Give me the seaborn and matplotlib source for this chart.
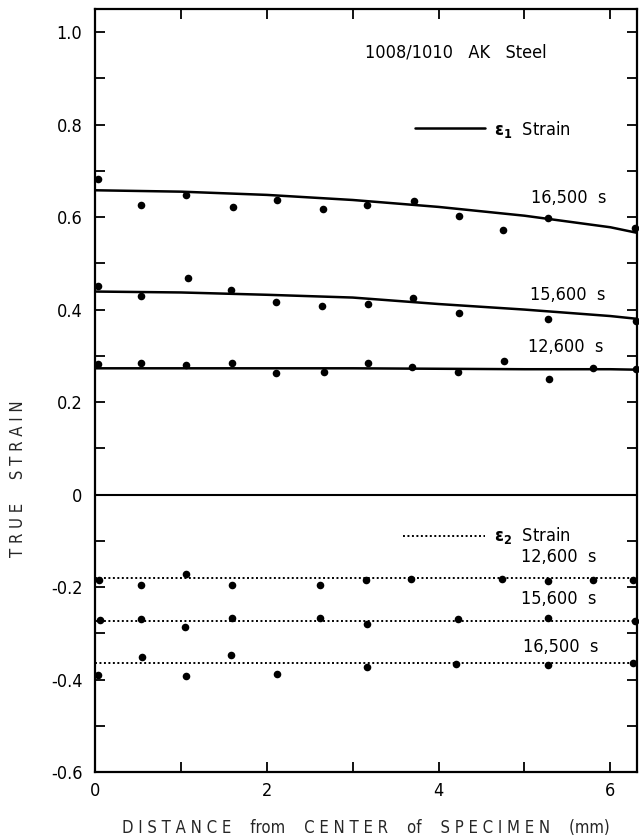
import numpy as np
import pandas as pd
import matplotlib
matplotlib.use("Agg")
import matplotlib.pyplot as plt
import seaborn as sns
from matplotlib.ticker import MultipleLocator, FixedLocator, FixedFormatter

# ---------------- data ----------------
# epsilon-1 measured points
e1_16500_x = [0.03, 0.54, 1.06, 1.61, 2.12, 2.65, 3.17, 3.71, 4.24, 4.75, 5.27, 6.29]
e1_16500_y = [0.682, 0.627, 0.647, 0.622, 0.636, 0.618, 0.626, 0.634, 0.602, 0.573, 0.597, 0.576]
e1_15600_x = [0.03, 0.54, 1.08, 1.58, 2.11, 2.64, 3.18, 3.70, 4.24, 5.27, 6.30]
e1_15600_y = [0.451, 0.429, 0.469, 0.443, 0.416, 0.408, 0.411, 0.425, 0.393, 0.380, 0.375]
e1_12600_x = [0.03, 0.54, 1.06, 1.60, 2.11, 2.67, 3.18, 3.69, 4.23, 4.76, 5.28, 5.80, 6.30]
e1_12600_y = [0.283, 0.285, 0.281, 0.285, 0.263, 0.266, 0.285, 0.276, 0.265, 0.289, 0.249, 0.273, 0.271]

# epsilon-1 fitted curves
fit_x = [0, 1, 2, 3, 4, 5, 6, 6.31]
fit_e1_16500 = [0.658, 0.655, 0.648, 0.637, 0.622, 0.603, 0.578, 0.566]
fit_e1_15600 = [0.439, 0.437, 0.432, 0.426, 0.412, 0.400, 0.386, 0.380]
fit_e1_12600 = [0.273, 0.273, 0.273, 0.273, 0.272, 0.271, 0.271, 0.270]

# epsilon-2 measured points
e2_12600_x = [0.05, 0.53, 1.06, 1.59, 2.62, 3.15, 3.68, 4.74, 5.27, 5.80, 6.26]
e2_12600_y = [-0.185, -0.195, -0.172, -0.195, -0.196, -0.184, -0.183, -0.183, -0.188, -0.184, -0.185]
e2_15600_x = [0.06, 0.54, 1.05, 1.60, 2.62, 3.17, 4.23, 5.27, 6.29]
e2_15600_y = [-0.271, -0.269, -0.286, -0.268, -0.267, -0.280, -0.269, -0.266, -0.273]
e2_16500_x = [0.03, 0.55, 1.06, 1.58, 2.12, 3.17, 4.20, 5.27, 6.26]
e2_16500_y = [-0.390, -0.352, -0.393, -0.347, -0.388, -0.372, -0.366, -0.368, -0.364]

# epsilon-2 fitted (flat) lines
fit2_x = [0, 6.31]
fit_e2_12600 = [-0.181, -0.181]
fit_e2_15600 = [-0.273, -0.273]
fit_e2_16500 = [-0.364, -0.364]

y_tick_vals = [1.0, 0.8, 0.6, 0.4, 0.2, 0.0, -0.2, -0.4, -0.6]
y_tick_labels = ["1.0", "0.8", "0.6", "0.4", "0.2", "0", "-0.2", "-0.4", "-0.6"]
x_tick_vals = [0, 2, 4, 6]
x_tick_labels = ["0", "2", "4", "6"]

# ---------------- build frames ----------------
pts = pd.concat([
    pd.DataFrame({"x": e1_16500_x, "y": e1_16500_y}),
    pd.DataFrame({"x": e1_15600_x, "y": e1_15600_y}),
    pd.DataFrame({"x": e1_12600_x, "y": e1_12600_y}),
    pd.DataFrame({"x": e2_12600_x, "y": e2_12600_y}),
    pd.DataFrame({"x": e2_15600_x, "y": e2_15600_y}),
    pd.DataFrame({"x": e2_16500_x, "y": e2_16500_y}),
], ignore_index=True)

fits1 = pd.concat([
    pd.DataFrame({"x": fit_x, "y": fit_e1_16500, "s": "16500"}),
    pd.DataFrame({"x": fit_x, "y": fit_e1_15600, "s": "15600"}),
    pd.DataFrame({"x": fit_x, "y": fit_e1_12600, "s": "12600"}),
], ignore_index=True)
fits2 = pd.concat([
    pd.DataFrame({"x": fit2_x, "y": fit_e2_12600, "s": "12600"}),
    pd.DataFrame({"x": fit2_x, "y": fit_e2_15600, "s": "15600"}),
    pd.DataFrame({"x": fit2_x, "y": fit_e2_16500, "s": "16500"}),
], ignore_index=True)

# ---------------- plot ----------------
sns.set_style("ticks")
plt.rcParams["font.family"] = ["DejaVu Sans"]
plt.rcParams["font.stretch"] = "condensed"

fig = plt.figure(figsize=(6.39, 8.39), dpi=100)
ax = fig.add_axes([95/639, 1 - 772/839, (637-95)/639, (772-9)/839])

for s in ["16500", "15600", "12600"]:
    sub = fits1[fits1.s == s]
    sns.lineplot(data=sub, x="x", y="y", ax=ax, color="black", lw=1.8,
                 estimator=None, sort=True, legend=False)
for s in ["12600", "15600", "16500"]:
    sub = fits2[fits2.s == s]
    sns.lineplot(data=sub, x="x", y="y", ax=ax, color="black", lw=1.4,
                 estimator=None, legend=False, linestyle=(0, (1, 1.3)))

sns.scatterplot(data=pts, x="x", y="y", ax=ax, color="black", s=30,
                edgecolor="black", linewidth=0, legend=False, zorder=5,
                clip_on=False)

ax.axhline(0, color="black", lw=1.5)

ax.set_xlim(0, 6.31)
ax.set_ylim(-0.6, 1.05)

ax.xaxis.set_major_locator(FixedLocator(x_tick_vals))
ax.xaxis.set_major_formatter(FixedFormatter(x_tick_labels))
ax.xaxis.set_minor_locator(MultipleLocator(1))
ax.yaxis.set_major_locator(FixedLocator(y_tick_vals))
ax.yaxis.set_major_formatter(FixedFormatter(y_tick_labels))
ax.yaxis.set_minor_locator(MultipleLocator(0.1))

ax.tick_params(which="both", direction="in", top=True, right=True,
               length=7, width=1.3, colors="black")
ax.tick_params(axis="y", which="major", labelsize=13, pad=9)
ax.tick_params(axis="x", which="major", labelsize=13, pad=7)
for sp in ax.spines.values():
    sp.set_linewidth(1.6)
    sp.set_color("black")

ax.set_xlabel("D I S T A N C E    from    C E N T E R    of    S P E C I M E N    (mm)",
              fontsize=12)
ax.set_ylabel("T R U E     S T R A I N", fontsize=12)
ax.xaxis.set_label_coords(0.5, -0.062)
ax.yaxis.set_label_coords(-0.125, 0.385)

tk = dict(fontsize=13, color="black")
ax.text(4.2, 0.955, "1008/1010   AK   Steel", ha="center", va="center", **tk)
ax.plot([3.73, 4.54], [0.792, 0.792], color="black", lw=1.8)
ax.text(4.65, 0.79, r"$\mathbf{\epsilon}_{\mathbf{1}}$  Strain", ha="left", va="center", **tk)
ax.text(5.52, 0.642, "16,500  s", ha="center", va="center", **tk)
ax.text(5.50, 0.431, "15,600  s", ha="center", va="center", **tk)
ax.text(5.48, 0.318, "12,600  s", ha="center", va="center", **tk)

ax.plot([3.59, 4.54], [-0.089, -0.089], color="black", lw=1.4, linestyle=(0, (1, 1.3)))
ax.text(4.65, -0.089, r"$\mathbf{\epsilon}_{\mathbf{2}}$  Strain", ha="left", va="center", **tk)
ax.text(5.40, -0.136, "12,600  s", ha="center", va="center", **tk)
ax.text(5.40, -0.226, "15,600  s", ha="center", va="center", **tk)
ax.text(5.42, -0.330, "16,500  s", ha="center", va="center", **tk)

fig.savefig("out.png", dpi=100)
